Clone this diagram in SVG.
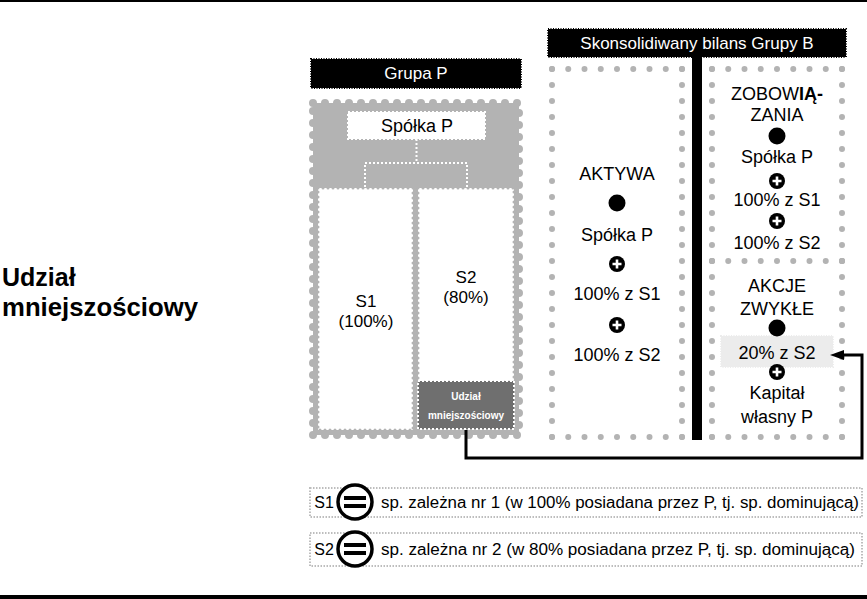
<svg xmlns="http://www.w3.org/2000/svg" width="867" height="599" viewBox="0 0 867 599">
<style>
text{font-family:"Liberation Sans",Arial,sans-serif;fill:#000;text-anchor:middle}
.t18{font-size:18px}
.t17{font-size:17px}
.wt{fill:#fff;font-size:17px}
.blk{fill:#000;stroke:#000;stroke-width:2;stroke-dasharray:1 1.5}
.wdot{fill:none;stroke:#fff;stroke-width:2;stroke-dasharray:2 2}
.gdot{fill:none;stroke:#b3b3b3;stroke-width:6;stroke-linecap:round}
.h{stroke-dasharray:0 16.25}
.v{stroke-dasharray:0 16}
.leg{fill:#fff;stroke:#bdbdbd;stroke-width:2;stroke-dasharray:1.5 1.5}
.wbox{fill:#fff;stroke:#b3b3b3;stroke-width:3;stroke-dasharray:0 5;stroke-linecap:round}
.lt{font-size:16px;text-anchor:start}
</style>
<defs>
<marker id="arr" viewBox="0 0 14 10" refX="0" refY="5" markerWidth="14" markerHeight="10" markerUnits="userSpaceOnUse" orient="auto">
<path d="M0,0 L14,5 L0,10 z" fill="#000"/>
</marker>
<g id="plus"><circle r="8" fill="#000"/><path d="M-4.5,0 H4.5 M0,-4.5 V4.5" stroke="#fff" stroke-width="2.6"/></g>
<g id="eq"><circle r="17" fill="#fff" stroke="#000" stroke-width="3.5"/><rect x="-11" y="-6" width="22" height="4" fill="#000"/><rect x="-11" y="2" width="22" height="4" fill="#000"/></g>
</defs>
<rect x="0" y="0" width="867" height="2" fill="#000"/>
<rect x="0" y="595" width="867" height="4" fill="#000"/>

<g id="title-left">
<text x="2" y="286" style="font-size:25px;font-weight:bold;text-anchor:start">Udział</text>
<text x="2" y="316" style="font-size:25px;font-weight:bold;text-anchor:start" textLength="196" lengthAdjust="spacingAndGlyphs">mniejszościowy</text>
</g>

<g id="grupa-p-label">
<rect class="blk" x="311" y="59" width="210" height="29"/>
<text class="wt" x="416" y="79">Grupa P</text>
</g>

<g id="grupa-p">
<rect x="313" y="103" width="206" height="332" fill="#b3b3b3" stroke="#b3b3b3" stroke-width="8" stroke-dasharray="0 12" stroke-linecap="round"/>
<rect x="313" y="103" width="206" height="332" fill="#b3b3b3"/>
</g>

<g id="spolka-p">
<rect x="348" y="112" width="137" height="27" fill="#fff"/>
<rect class="wdot" x="348" y="112" width="137" height="27"/>
<text class="t18" x="417" y="132">Spółka P</text>
</g>

<g id="s1">
<rect class="wbox" x="318" y="188" width="95" height="242"/>
<text class="t17" x="366" y="307">S1</text>
<text class="t17" x="366" y="327">(100%)</text>
</g>

<g id="s2">
<rect class="wbox" x="418" y="188" width="96" height="194"/>
<text class="t17" x="466" y="283">S2</text>
<text class="t17" x="466" y="303">(80%)</text>
</g>

<g id="udzial-box">
<rect x="418" y="381" width="96" height="48" fill="#6f6f6f"/>
<rect class="wdot" x="418" y="381" width="96" height="48"/>
<text x="466" y="400" style="fill:#fff;font-size:10px;font-weight:bold">Udział</text>
<text x="466" y="419" style="fill:#fff;font-size:10px;font-weight:bold">mniejszościowy</text>
</g>

<g id="bilans-label">
<rect class="blk" x="548" y="29" width="298" height="28"/>
<text class="wt" x="697" y="49">Skonsolidiwany bilans Grupy B</text>
</g>

<g id="bar">
<rect x="692" y="57" width="10" height="383" fill="#000"/>
</g>

<g id="aktywa">
<path class="gdot h" d="M552,69 H682.1 M552,437 H682.1"/>
<path class="gdot v" d="M552,69 V437.1 M682,69 V437.1"/>
<text class="t18" x="617" y="180">AKTYWA</text>
<circle cx="617" cy="203" r="8.5" fill="#000"/>
<text class="t18" x="617" y="241">Spółka P</text>
<use href="#plus" x="617" y="264"/>
<text class="t18" x="617" y="300">100% z S1</text>
<use href="#plus" x="617" y="325"/>
<text class="t18" x="617" y="361">100% z S2</text>
</g>

<g id="zobowiazania">
<path class="gdot h" d="M712,69 H842.1 M712,261 H842.1"/>
<path class="gdot v" d="M712,69 V261.1 M842,69 V261.1"/>
<text class="t18" x="777" y="100">ZOBOW<tspan style="font-weight:bold">IĄ-</tspan></text>
<text class="t18" x="777" y="121">ZANIA</text>
<circle cx="777" cy="136" r="8.5" fill="#000"/>
<text class="t18" x="777" y="163">Spółka P</text>
<use href="#plus" x="777" y="181"/>
<text class="t18" x="777" y="206">100% z S1</text>
<use href="#plus" x="777" y="221"/>
<text class="t18" x="777" y="249">100% z S2</text>
</g>

<g id="akcje">
<path class="gdot h" d="M712,437 H842.1"/>
<path class="gdot v" d="M712,261 V437.1 M842,261 V437.1"/>
<text class="t18" x="777" y="292">AKCJE</text>
<text class="t18" x="777" y="315">ZWYKŁE</text>
<rect x="721" y="336" width="112" height="31" fill="#ececec" stroke="#ececec" stroke-width="2" stroke-dasharray="1 1.5"/>
<circle cx="777" cy="328" r="8.5" fill="#000"/>
<text class="t18" x="777" y="359">20% z S2</text>
<use href="#plus" x="777" y="372"/>
<text class="t18" x="777" y="399">Kapitał</text>
<text class="t18" x="777" y="423">własny P</text>
</g>

<g id="connectors">
<path d="M416.5,139 V163 M365,187 V163 H467 V187" class="wdot"/>
<path d="M466,430 V458 H862 V355 H844" fill="none" stroke="#000" stroke-width="3" marker-end="url(#arr)"/>
</g>

<g id="legend-s1">
<rect class="leg" x="310" y="488" width="552" height="29"/>
<text x="324" y="508" style="font-size:16px">S1</text>
<use href="#eq" x="355" y="502"/>
<text class="lt" x="381" y="508" textLength="478" lengthAdjust="spacingAndGlyphs">sp. zależna nr 1 (w 100% posiadana przez  P, tj. sp. dominującą)</text>
</g>

<g id="legend-s2">
<rect class="leg" x="310" y="533" width="552" height="33"/>
<text x="324" y="555" style="font-size:16px">S2</text>
<use href="#eq" x="355" y="549"/>
<text class="lt" x="381" y="555" textLength="474" lengthAdjust="spacingAndGlyphs">sp. zależna nr 2 (w 80% posiadana przez  P, tj. sp. dominującą)</text>
</g>
</svg>
